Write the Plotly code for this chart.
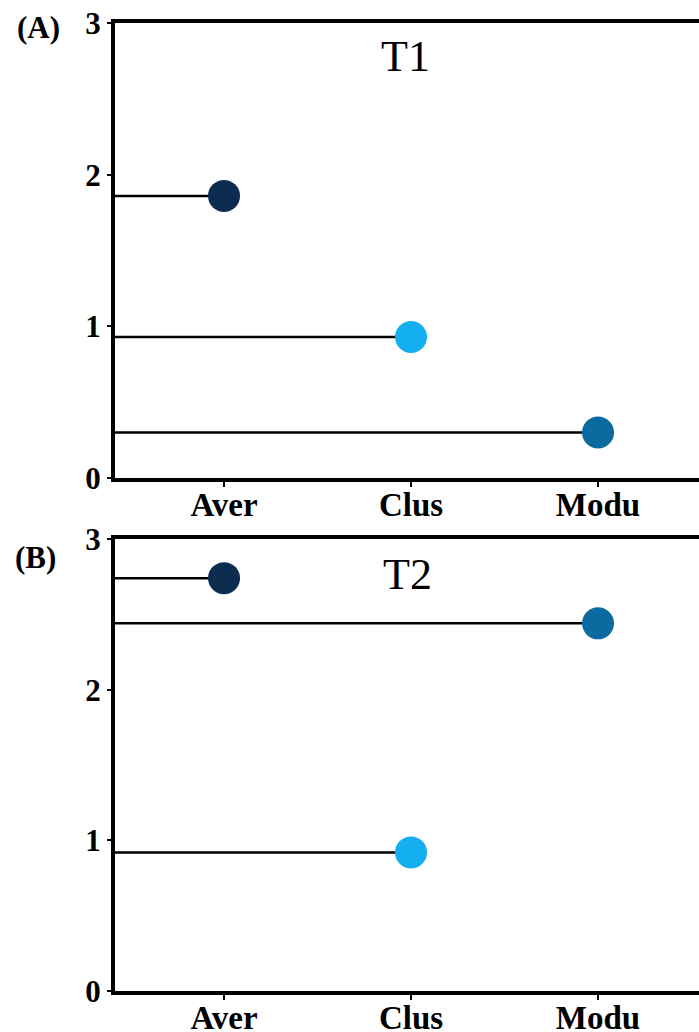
import plotly.graph_objects as go

# Metric names along the x axis
categories = ["Aver", "Clus", "Modu"]

# Values for each time point
t1_values = [1.86, 0.93, 0.30]
t2_values = [2.74, 0.92, 2.44]

dot_colors = ["#0c2d4f", "#14aff0", "#0b6aa0"]

panel_labels = ["(A)", "(B)"]
panel_titles = ["T1", "T2"]

y_ticks = [0, 1, 2, 3]

W, H = 699, 1032
X_RANGE = [-0.583, 2.54]
SERIF = "Liberation Serif, Times New Roman, serif"

fig = go.Figure()

panels = [
    (t1_values, "x", "y"),
    (t2_values, "x2", "y2"),
]

for values, xa, ya in panels:
    # horizontal stems from the y axis out to each point
    for i, v in enumerate(values):
        fig.add_trace(go.Scatter(
            x=[X_RANGE[0], i], y=[v, v], mode="lines",
            line=dict(color="black", width=2.5),
            xaxis=xa, yaxis=ya, showlegend=False, hoverinfo="skip",
        ))
    fig.add_trace(go.Scatter(
        x=list(range(len(categories))), y=values, mode="markers",
        marker=dict(size=32, color=dot_colors, line=dict(width=0)),
        xaxis=xa, yaxis=ya, showlegend=False,
        text=categories, hovertemplate="%{text}: %{y}<extra></extra>",
    ))

# Panel layout in pixels: (top, bottom)
panel_px = [(23, 478), (539, 991)]
x_left = 115

def xaxis_cfg(anchor):
    return dict(
        domain=[x_left / W, 1.0], range=X_RANGE, anchor=anchor,
        tickvals=list(range(len(categories))), ticktext=categories,
        showline=True, linecolor="black", linewidth=4, mirror=True,
        ticks="", showgrid=False, zeroline=False, automargin=False,
        ticklabelstandoff=-6,
        # small tick marks under each category
        minor=dict(ticks="outside", tick0=0, dtick=1, ticklen=5,
                   tickwidth=2, tickcolor="black", showgrid=False),
        tickfont=dict(family=SERIF, size=33, color="black", weight="bold"),
    )

def yaxis_cfg(anchor, top, bottom):
    return dict(
        domain=[1 - bottom / H, 1 - top / H], range=[0, 3], anchor=anchor,
        tickvals=y_ticks, ticktext=[str(t) for t in y_ticks],
        showline=True, linecolor="black", linewidth=4,
        ticks="outside", ticklen=4, tickwidth=2, tickcolor="black",
        showgrid=False, zeroline=False, automargin=False,
        tickfont=dict(family=SERIF, size=31, color="black", weight="bold"),
    )

annotations = []
title_centers = [(405, 57), (407, 574)]
label_centers = [(38, 27), (35, 557)]
for k in range(2):
    tx, ty = title_centers[k]
    annotations.append(dict(
        text=panel_titles[k], x=tx / W, y=1 - ty / H, xref="paper", yref="paper",
        xanchor="center", yanchor="middle", showarrow=False,
        font=dict(family=SERIF, size=44, color="black"),
    ))
    lx, ly = label_centers[k]
    annotations.append(dict(
        text=panel_labels[k], x=lx / W, y=1 - ly / H, xref="paper", yref="paper",
        xanchor="center", yanchor="middle", showarrow=False,
        font=dict(family=SERIF, size=31, color="black", weight="bold"),
    ))

fig.update_layout(
    width=W, height=H,
    margin=dict(l=0, r=0, t=0, b=0),
    paper_bgcolor="white", plot_bgcolor="white",
    xaxis=xaxis_cfg("y"),
    yaxis=yaxis_cfg("x", *panel_px[0]),
    xaxis2=xaxis_cfg("y2"),
    yaxis2=yaxis_cfg("x2", *panel_px[1]),
    annotations=annotations,
)

fig.write_html("out.html")
